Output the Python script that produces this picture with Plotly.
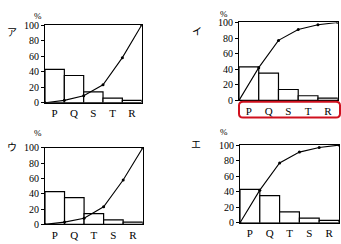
import plotly.graph_objects as go

W, H = 341, 244

# Panel data
labels_panels = ["ア", "イ", "ウ", "エ"]
cats_a = ["P", "Q", "S", "T", "R"]
bars_a = [43, 35, 14, 6, 3]
cum_a = [0, 3, 9, 23, 58, 100]

cats_b = ["P", "Q", "S", "T", "R"]
bars_b = [43, 35, 14, 6, 3]
cum_b = [0, 42, 77, 91, 97, 100]

cats_c = ["P", "Q", "T", "S", "R"]
bars_c = [43, 35, 14, 6, 3]
cum_c = [0, 3, 8, 23, 58, 100]

cats_d = ["P", "Q", "T", "S", "R"]
bars_d = [43, 35, 14, 6, 3]
cum_d = [0, 42, 77, 91, 97, 100]

y_ticks = [0, 20, 40, 60, 80, 100]
y_ticktext = ["0", "20", "40", "60", "80", "100"]

# panel boxes in pixels: (left, right, top, bottom)
boxes = [(45, 141.7, 20, 101.7), (239, 337.7, 17.3, 99.3),
         (45, 142.7, 149.3, 229.7), (240, 339, 146.3, 228)]
panels = [(cats_a, bars_a, cum_a), (cats_b, bars_b, cum_b),
          (cats_c, bars_c, cum_c), (cats_d, bars_d, cum_d)]
label_pos = [(6, 18), (197, 17), (6, 148), (196, 145)]
pct_pos = [(33, 4), (229, 2), (33, 134), (229, 132)]

SERIF = "Liberation Serif"
fig = go.Figure()
layout = dict(width=W, height=H, margin=dict(l=0, r=0, t=0, b=0),
              paper_bgcolor="white", plot_bgcolor="white", showlegend=False)
annotations = []
shapes = []

def px(x):
    return x / W

def py(y):
    return 1 - y / H

for i, ((cats, bars, cum), (l, r, t, b)) in enumerate(zip(panels, boxes)):
    n = i + 1
    xa = "x" if n == 1 else f"x{n}"
    ya = "y" if n == 1 else f"y{n}"
    xs_bar = [k + 0.5 for k in range(len(cats))]
    fig.add_trace(go.Bar(x=xs_bar, y=bars, width=1, xaxis=xa, yaxis=ya,
                         marker=dict(color="white", line=dict(color="black", width=1.2))))
    fig.add_trace(go.Scatter(x=list(range(len(cum))), y=cum, xaxis=xa, yaxis=ya,
                             mode="lines+markers",
                             line=dict(color="black", width=1.1),
                             marker=dict(color="black", size=3)))
    xkey = "xaxis" if n == 1 else f"xaxis{n}"
    ykey = "yaxis" if n == 1 else f"yaxis{n}"
    layout[xkey] = dict(domain=[px(l), px(r)], range=[0, len(cats)], anchor=ya,
                        tickmode="array", tickvals=xs_bar, ticktext=cats, ticks="",
                        showgrid=False, zeroline=False, showline=True, linecolor="black",
                        linewidth=1.2, mirror=True,
                        tickfont=dict(family=SERIF, size=11, color="black"))
    layout[ykey] = dict(domain=[py(b), py(t)], range=[0, 100], anchor=xa,
                        tickmode="array", tickvals=y_ticks, ticktext=y_ticktext,
                        ticks="outside", ticklen=3, tickcolor="black", tickwidth=1,
                        showgrid=False, zeroline=False, showline=True, linecolor="black",
                        linewidth=1.2, mirror=True, showticklabels=True,
                        tickfont=dict(family=SERIF, size=10, color="black"))
    lx, ly = label_pos[i]
    annotations.append(dict(x=px(lx), y=py(ly), xref="paper", yref="paper",
                            text=labels_panels[i], showarrow=False, borderpad=0,
                            font=dict(family="Noto Sans CJK JP", size=10, color="black")))
    qx, qy = pct_pos[i]
    annotations.append(dict(x=px(qx), y=py(qy), xref="paper", yref="paper",
                            text="%", showarrow=False, borderpad=0,
                            font=dict(family=SERIF, size=9, color="black")))

# red rounded rectangle around イ's category labels
x0, x1, y0, y1, rr = 239, 340, 100.7, 117.3, 4
path = (f"M {px(x0+rr)},{py(y0)} L {px(x1-rr)},{py(y0)} Q {px(x1)},{py(y0)} {px(x1)},{py(y0+rr)} "
        f"L {px(x1)},{py(y1-rr)} Q {px(x1)},{py(y1)} {px(x1-rr)},{py(y1)} "
        f"L {px(x0+rr)},{py(y1)} Q {px(x0)},{py(y1)} {px(x0)},{py(y1-rr)} "
        f"L {px(x0)},{py(y0+rr)} Q {px(x0)},{py(y0)} {px(x0+rr)},{py(y0)} Z")
shapes.append(dict(type="path", path=path, xref="paper", yref="paper",
                   line=dict(color="#d0101e", width=2)))

layout["annotations"] = annotations
layout["shapes"] = shapes
fig.update_layout(**layout)
fig.write_html("out.html")
